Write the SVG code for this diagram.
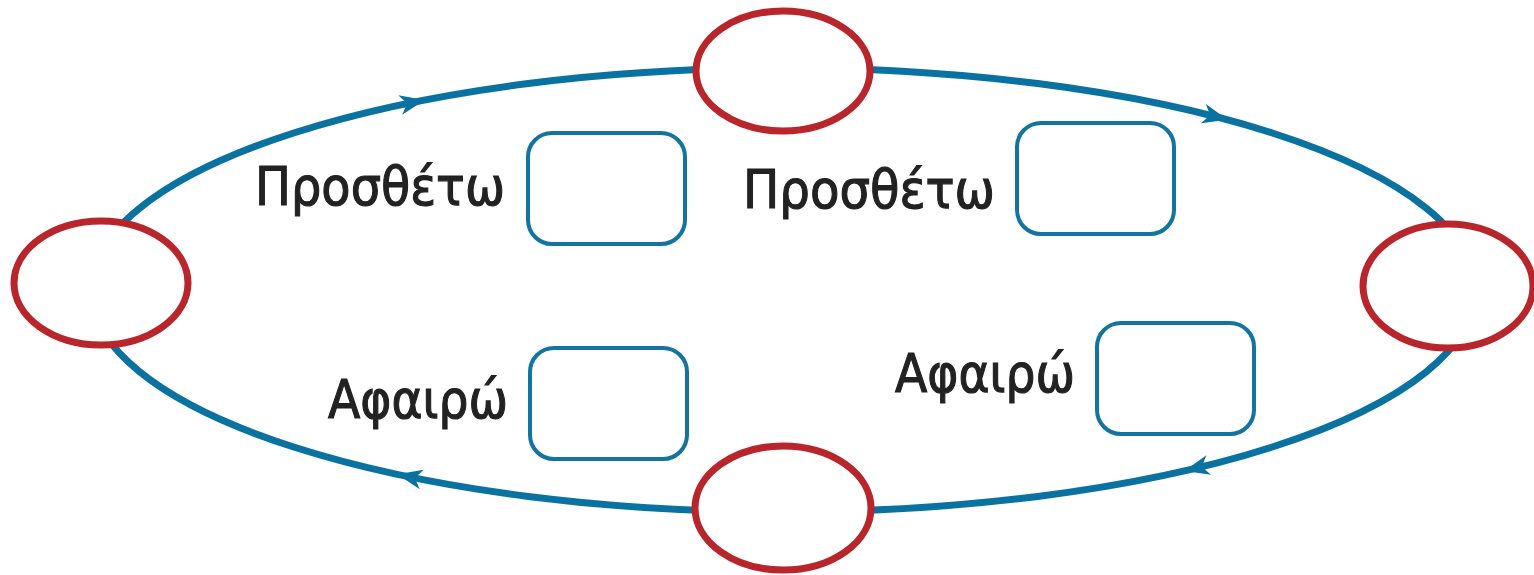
<svg xmlns="http://www.w3.org/2000/svg" width="1534" height="575" viewBox="0 0 1534 575">
<style>
.loop{fill:none;stroke:#0a72a0;stroke-width:7}
.node{fill:#fff;stroke:#b8252b;stroke-width:7}
.box{fill:#fff;stroke:#1474a0;stroke-width:4}
.lbl{font-family:"DejaVu Sans",sans-serif;font-size:54px;fill:#222;stroke:#222;stroke-width:1.2}
.ah{fill:#0a72a0}
</style>
<defs>
<path id="head" d="M13,0 L-12,-10 L-5,0 L-12,10 Z"/>
</defs>
<g id="connectors">
<ellipse class="loop" cx="783" cy="290" rx="692" ry="222"/>
<use href="#head" class="ah" transform="translate(412,102.6) rotate(-11.5)"/>
<use href="#head" class="ah" transform="translate(1215,116.6) rotate(14.4)"/>
<use href="#head" class="ah" transform="translate(1197,467.9) rotate(166.5)"/>
<use href="#head" class="ah" transform="translate(410,477) rotate(191.7)"/>
</g>
<g id="node-top"><ellipse class="node" cx="783" cy="71" rx="87" ry="60"/></g>
<g id="node-left"><ellipse class="node" cx="101" cy="283" rx="87" ry="62"/></g>
<g id="node-right"><ellipse class="node" cx="1448" cy="286" rx="85" ry="62"/></g>
<g id="node-bottom"><ellipse class="node" cx="783" cy="508" rx="88" ry="62"/></g>
<g id="box-add1"><rect class="box" x="528" y="133" width="157" height="111" rx="24"/></g>
<g id="box-add2"><rect class="box" x="1017" y="123" width="157" height="111" rx="24"/></g>
<g id="box-sub1"><rect class="box" x="530" y="348" width="157" height="111" rx="24"/></g>
<g id="box-sub2"><rect class="box" x="1097" y="323" width="157" height="111" rx="24"/></g>
<g id="label-add1"><text class="lbl" x="255" y="205" textLength="250" lengthAdjust="spacingAndGlyphs">Προσθέτω</text></g>
<g id="label-add2"><text class="lbl" x="743" y="208" textLength="252" lengthAdjust="spacingAndGlyphs">Προσθέτω</text></g>
<g id="label-sub1"><text class="lbl" x="328" y="418" textLength="180" lengthAdjust="spacingAndGlyphs">Αφαιρώ</text></g>
<g id="label-sub2"><text class="lbl" x="895" y="392" textLength="180" lengthAdjust="spacingAndGlyphs">Αφαιρώ</text></g>
</svg>
